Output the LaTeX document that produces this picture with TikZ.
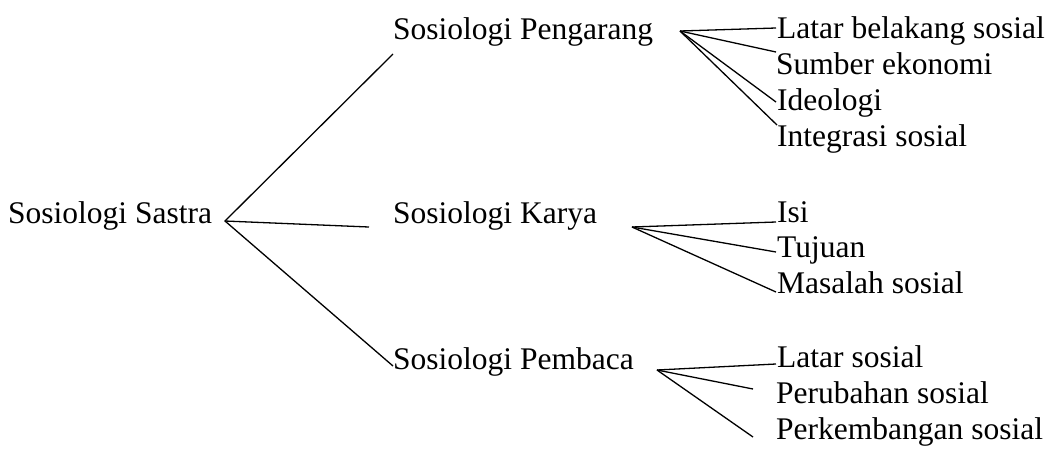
\documentclass[tikz,border=0pt]{standalone}
\usepackage{fontspec}
\setmainfont{Liberation Serif}
\begin{document}
\begin{tikzpicture}[x=1pt,y=-1pt,
  lbl/.style={anchor=base west,inner sep=0pt,font=\fontsize{31.5}{36}\selectfont},
  link/.style={line width=1.3pt}]
\useasboundingbox (0,0) rectangle (1052,448);
% labels
\node[lbl] (root) at (8,223) {Sosiologi Sastra};
\node[lbl] (peng) at (393,39) {Sosiologi Pengarang};
\node[lbl] (kary) at (393,223) {Sosiologi Karya};
\node[lbl] (pemb) at (393,369) {Sosiologi Pembaca};
\node[lbl] (p1) at (777,38) {Latar belakang sosial};
\node[lbl] (p2) at (776,74) {Sumber ekonomi};
\node[lbl] (p3) at (777,110) {Ideologi};
\node[lbl] (p4) at (777,146) {Integrasi sosial};
\node[lbl] (k1) at (777,222) {Isi};
\node[lbl] (k2) at (777,257) {Tujuan};
\node[lbl] (k3) at (777,293) {Masalah sosial};
\node[lbl] (b1) at (777,367) {Latar sosial};
\node[lbl] (b2) at (776,403) {Perubahan sosial};
\node[lbl] (b3) at (776,439) {Perkembangan sosial};
% junction coordinates
\coordinate (rv) at (225,221);
\coordinate (rt) at (393,54);
\coordinate (rm) at (369,227);
\coordinate (rb) at (393,366);
\coordinate (pv) at (680,31);
\coordinate (pe1) at (776,28);
\coordinate (pe2) at (776,52);
\coordinate (pe3) at (776,102);
\coordinate (pe4) at (777,125);
\coordinate (kv) at (632,227);
\coordinate (ke1) at (776,222);
\coordinate (ke2) at (776,252);
\coordinate (ke3) at (776,292);
\coordinate (bv) at (657,370);
\coordinate (be1) at (776,364);
\coordinate (be2) at (753,389);
\coordinate (be3) at (753,437);
% connectors
\draw[link] (rt) -- (rv) -- (rb);
\draw[link] (rv) -- (rm);
\draw[link] (pv) -- (pe1);
\draw[link] (pv) -- (pe2);
\draw[link] (pv) -- (pe3);
\draw[link] (pv) -- (pe4);
\draw[link] (kv) -- (ke1);
\draw[link] (kv) -- (ke2);
\draw[link] (kv) -- (ke3);
\draw[link] (bv) -- (be1);
\draw[link] (bv) -- (be2);
\draw[link] (bv) -- (be3);
\end{tikzpicture}
\end{document}
